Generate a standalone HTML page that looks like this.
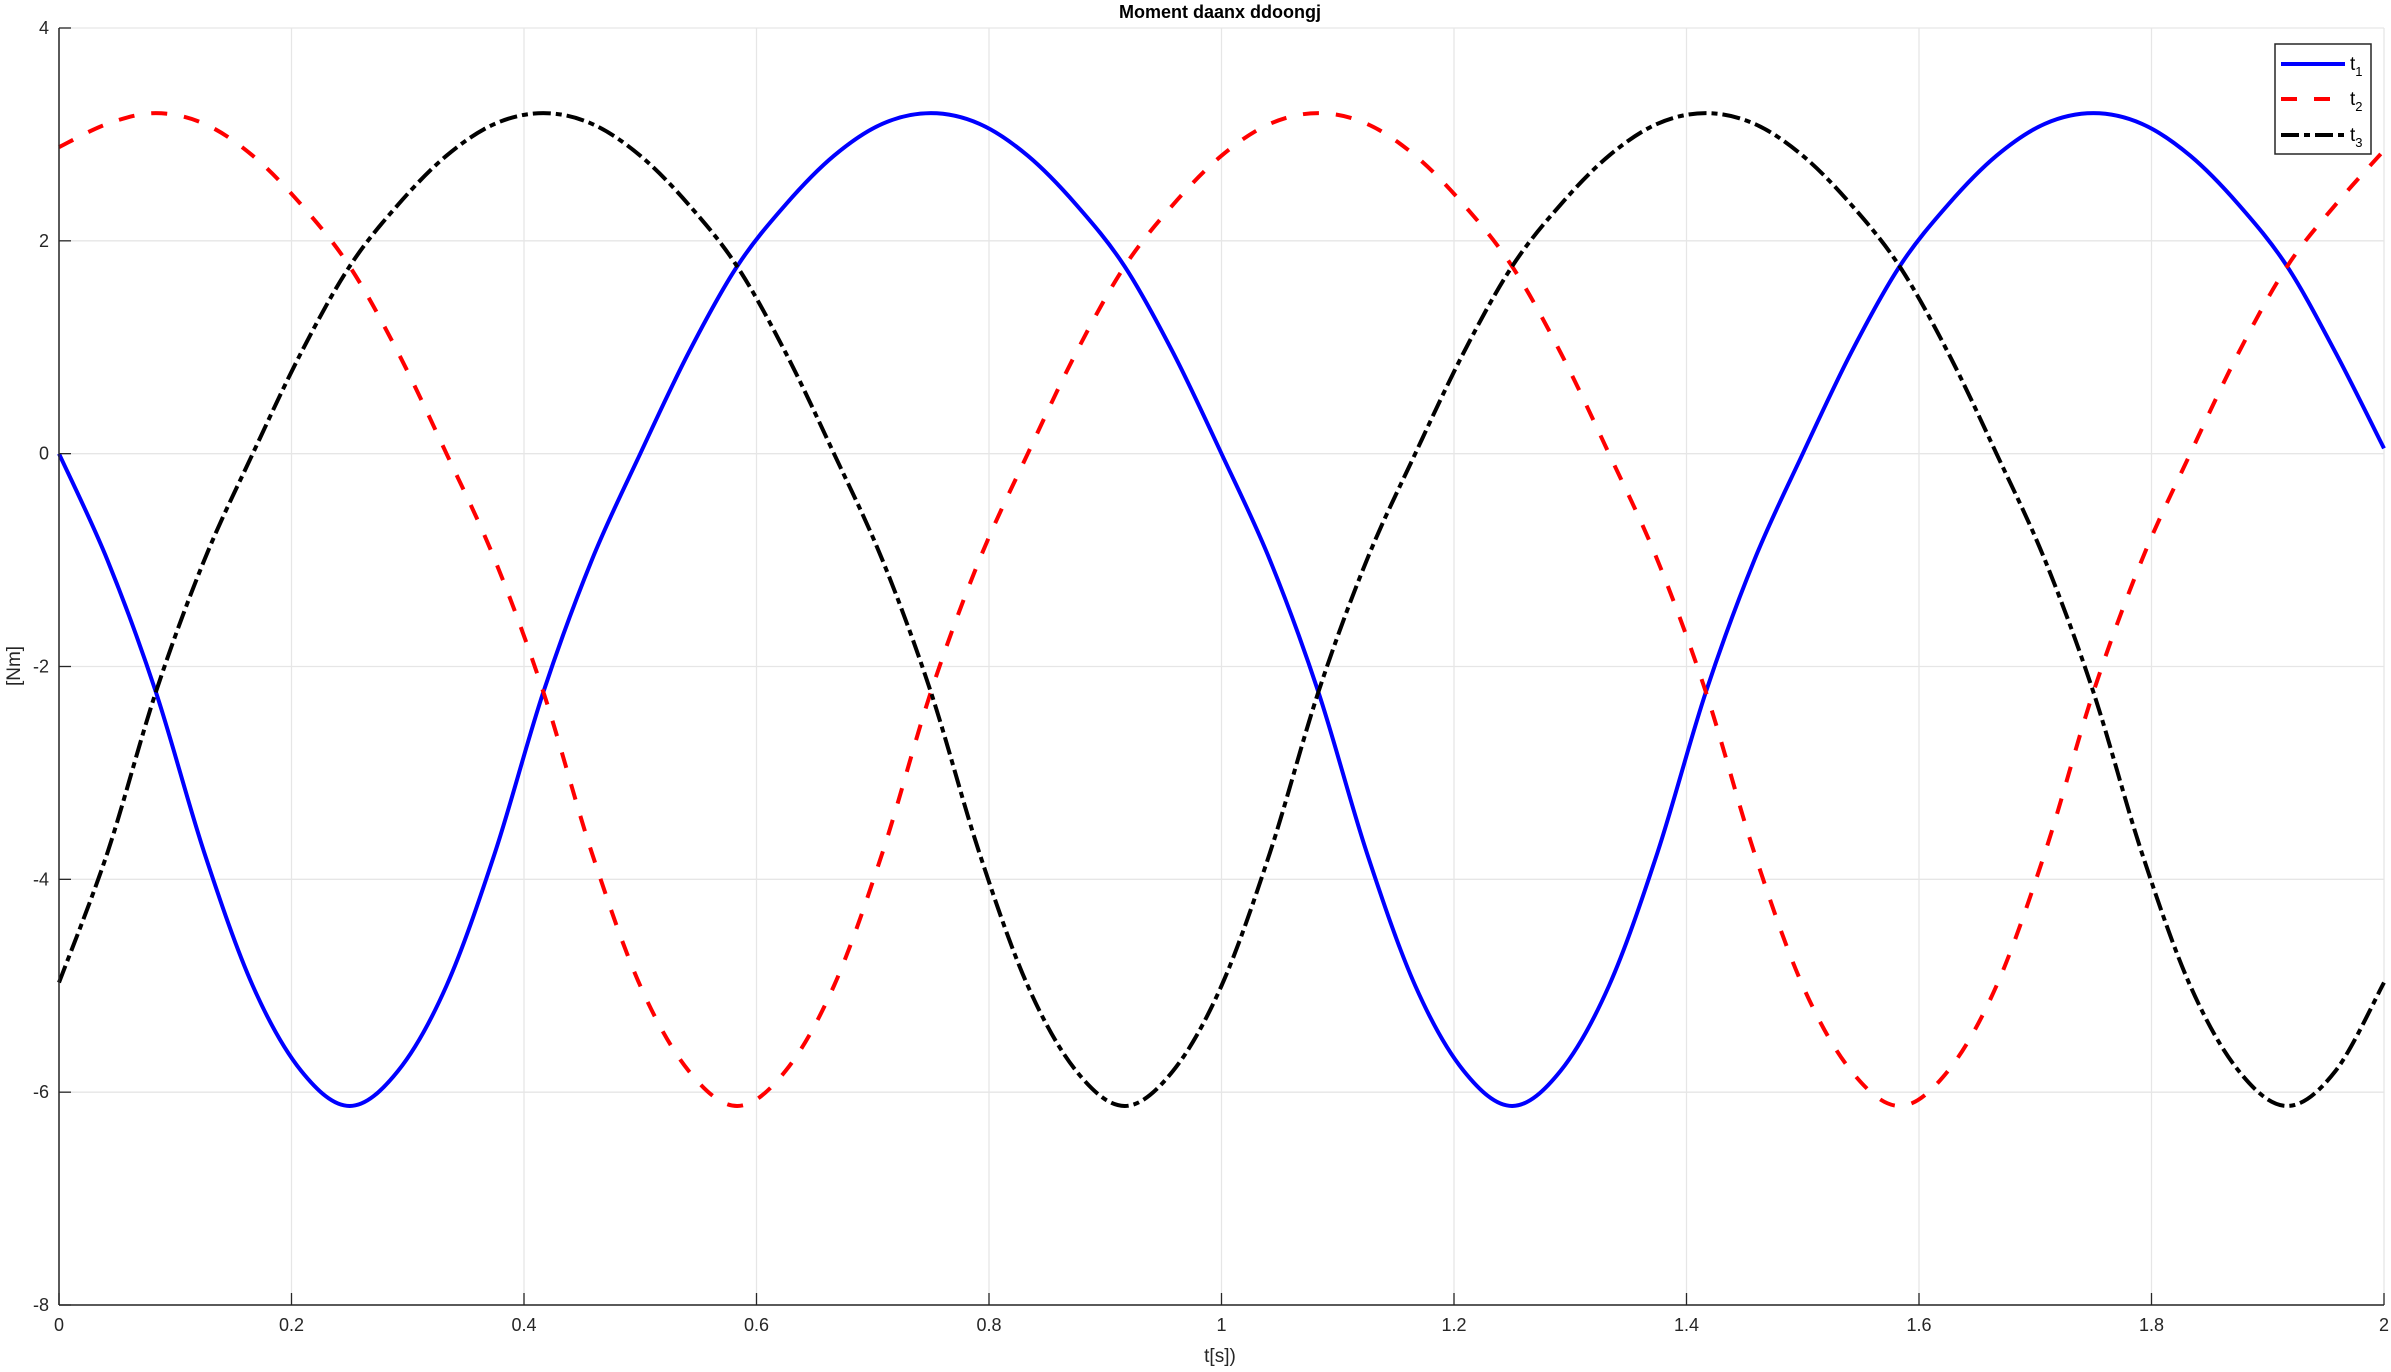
<!DOCTYPE html>
<html><head><meta charset="utf-8"><style>
html,body{margin:0;padding:0;background:#fff;}
svg{display:block;font-family:"Liberation Sans",sans-serif;}
</style></head><body>
<svg id="chart" width="2391" height="1372" viewBox="0 0 2391 1372" xmlns="http://www.w3.org/2000/svg">
<rect width="2391" height="1372" fill="#fff"/>
<g id="grid"></g>
<g id="series"></g>
<g id="axes"></g>
<text x="1220" y="18" text-anchor="middle" font-size="18" font-weight="bold" fill="#000">Moment daanx ddoongj</text>
<text x="1220" y="1362" text-anchor="middle" font-size="19" fill="#262626">t[s])</text>
<text transform="translate(20,666) rotate(-90)" text-anchor="middle" font-size="19" fill="#262626">[Nm]</text>
<g>
<rect x="2275" y="44" width="96" height="110" fill="#fff" stroke="#262626" stroke-width="1.5"/>
<line x1="2281" y1="64" x2="2345" y2="64" stroke="#0000ff" stroke-width="4"/>
<line x1="2281" y1="99" x2="2345" y2="99" stroke="#ff0000" stroke-width="4" stroke-dasharray="16,17"/>
<line x1="2281" y1="135" x2="2345" y2="135" stroke="#000" stroke-width="4" stroke-dasharray="18,5,6,5"/>
<text x="2350" y="70" font-size="19" fill="#000">t<tspan font-size="13" dy="6">1</tspan></text>
<text x="2350" y="105" font-size="19" fill="#000">t<tspan font-size="13" dy="6">2</tspan></text>
<text x="2350" y="141" font-size="19" fill="#000">t<tspan font-size="13" dy="6">3</tspan></text>
</g>
</svg>
<script>
const xTicks=[0,0.2,0.4,0.6,0.8,1,1.2,1.4,1.6,1.8,2];
const xTickLabels=["0","0.2","0.4","0.6","0.8","1","1.2","1.4","1.6","1.8","2"];
const yTicks=[-8,-6,-4,-2,0,2,4];
const yTickLabels=["-8","-6","-4","-2","0","2","4"];
const tStep=1/24;
const t1=[0,-1.0,-2.24,-3.75,-5.0,-5.8,-6.13,-5.8,-5.0,-3.75,-2.24,-1.0,0,0.95,1.76,2.34,2.8,3.1,3.2,3.1,2.8,2.34,1.76,0.95,
0,-1.0,-2.24,-3.75,-5.0,-5.8,-6.13,-5.8,-5.0,-3.75,-2.24,-1.0,0,0.95,1.76,2.34,2.8,3.1,3.2,3.1,2.8,2.34,1.76,0.95,0.05];
const t2=[2.88,3.1,3.2,3.1,2.8,2.34,1.76,0.95,0,-1.0,-2.24,-3.75,-5.0,-5.8,-6.13,-5.8,-5.0,-3.75,-2.24,-1.0,0,0.95,1.76,2.34,
2.8,3.1,3.2,3.1,2.8,2.34,1.76,0.95,0,-1.0,-2.24,-3.75,-5.0,-5.8,-6.13,-5.8,-5.0,-3.75,-2.24,-1.0,0,0.95,1.76,2.34,2.85];
const t3=[-4.97,-3.75,-2.24,-1.0,0,0.95,1.76,2.34,2.8,3.1,3.2,3.1,2.8,2.34,1.76,0.95,0,-1.0,-2.24,-3.75,-5.0,-5.8,-6.13,-5.8,
-5.0,-3.75,-2.24,-1.0,0,0.95,1.76,2.34,2.8,3.1,3.2,3.1,2.8,2.34,1.76,0.95,0,-1.0,-2.24,-3.75,-5.0,-5.8,-6.13,-5.8,-4.97];

const L=59,R=2384,T=28,B=1305;
const xMin=0,xMax=2,yMin=-8,yMax=4;
function sx(v){return L+(v-xMin)/(xMax-xMin)*(R-L);}
function sy(v){return B-(v-yMin)/(yMax-yMin)*(B-T);}
const NS="http://www.w3.org/2000/svg";
function mk(tag,attrs,parent){const e=document.createElementNS(NS,tag);for(const k in attrs)e.setAttribute(k,attrs[k]);parent.appendChild(e);return e;}
const grid=document.getElementById('grid'),axes=document.getElementById('axes'),series=document.getElementById('series');
xTicks.forEach((v,i)=>{
 const g=mk('line',{x1:sx(v),x2:sx(v),y1:T,y2:B,stroke:'#e6e6e6','stroke-width':1.3},grid);
 
 
 const tk=mk('line',{x1:sx(v),x2:sx(v),y1:B,y2:B-12,stroke:'#262626','stroke-width':1.3},axes);
 
 
 const tx=mk('text',{x:sx(v),y:B+26,'text-anchor':'middle','font-size':18,fill:'#262626'},axes);
 tx.textContent=xTickLabels[i];
 
 
});
yTicks.forEach((v,i)=>{
 const g=mk('line',{x1:L,x2:R,y1:sy(v),y2:sy(v),stroke:'#e6e6e6','stroke-width':1.3},grid);
 
 
 const tk=mk('line',{x1:L,x2:L+12,y1:sy(v),y2:sy(v),stroke:'#262626','stroke-width':1.3},axes);
 
 
 const tx=mk('text',{x:L-10,y:sy(v)+6,'text-anchor':'end','font-size':18,fill:'#262626'},axes);
 tx.textContent=yTickLabels[i];
 
 
});
const ax=mk('line',{x1:L,x2:L,y1:T,y2:B,stroke:'#262626','stroke-width':1.5},axes);


const bx=mk('line',{x1:L,x2:R,y1:B,y2:B,stroke:'#262626','stroke-width':1.5},axes);


function pathFor(vals){
 const p=vals.map((v,i)=>[sx(i*tStep),sy(v)]);
 let d='M'+p[0][0].toFixed(2)+','+p[0][1].toFixed(2);
 for(let i=0;i<p.length-1;i++){
  const p0=p[Math.max(0,i-1)],p1=p[i],p2=p[i+1],p3=p[Math.min(p.length-1,i+2)];
  const c1=[p1[0]+(p2[0]-p0[0])/6,p1[1]+(p2[1]-p0[1])/6];
  const c2=[p2[0]-(p3[0]-p1[0])/6,p2[1]-(p3[1]-p1[1])/6];
  d+='C'+c1[0].toFixed(2)+','+c1[1].toFixed(2)+' '+c2[0].toFixed(2)+','+c2[1].toFixed(2)+' '+p2[0].toFixed(2)+','+p2[1].toFixed(2);
 }
 return d;
}
const s1=mk('path',{d:pathFor(t1),fill:'none',stroke:'#0000ff','stroke-width':4},series);


const s2=mk('path',{d:pathFor(t2),fill:'none',stroke:'#ff0000','stroke-width':4,'stroke-dasharray':'16,17'},series);


const s3=mk('path',{d:pathFor(t3),fill:'none',stroke:'#000000','stroke-width':4,'stroke-dasharray':'18,5,6,5'},series);


</script>
</body></html>
